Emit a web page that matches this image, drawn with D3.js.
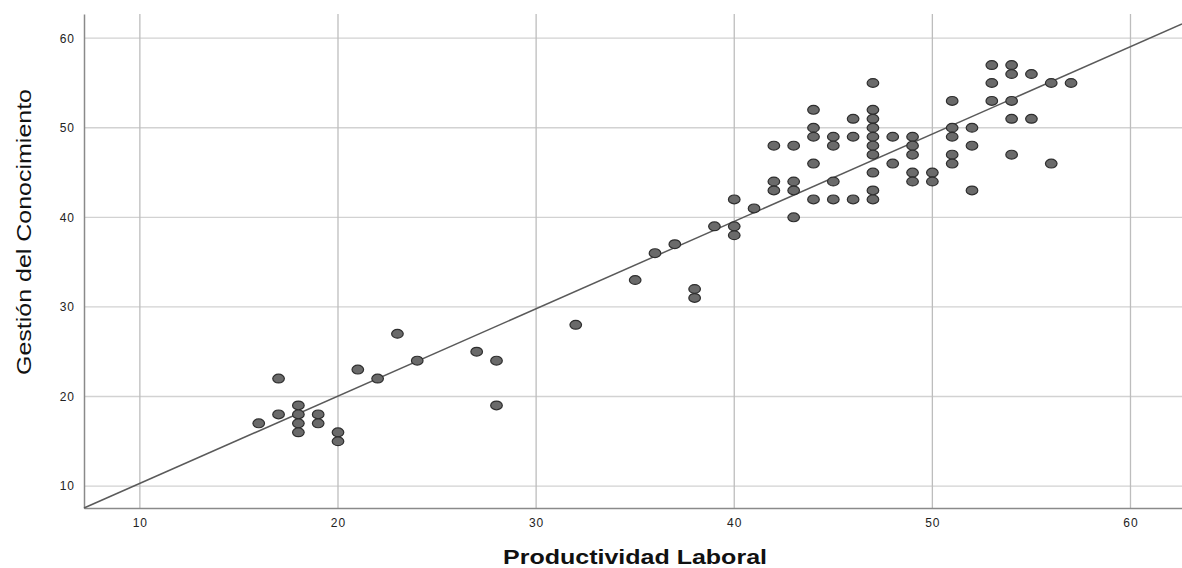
<!DOCTYPE html>
<html>
<head>
<meta charset="utf-8">
<script src="https://cdn.jsdelivr.net/npm/d3@7"></script>
<style>
	body { margin: 0; background: white; }
	svg { display: block; }
</style>
</head>
<body>
<svg id="svgScatter" width="1182" height="568"></svg>
<script>
// x = Productividad Laboral, y = Gestión del Conocimiento
const prodLaboral = [
	16, 17, 17, 18, 18, 18, 18, 19, 19, 20, 20, 21, 22, 23, 24, 27, 28, 28, 32, 35,
	36, 37, 38, 38, 39, 40, 40, 40, 41,
	42, 42, 42, 43, 43, 43, 43, 44, 44, 44, 44, 44, 45, 45, 45, 45, 46, 46, 46,
	47, 47, 47, 47, 47, 47, 47, 47, 47, 47, 48, 48, 49, 49, 49, 49, 49, 50, 50,
	51, 51, 51, 51, 51, 52, 52, 52, 53, 53, 53, 54, 54, 54, 54, 54, 55, 55, 56, 56, 57
];
const gestionConoc = [
	17, 22, 18, 19, 18, 17, 16, 18, 17, 16, 15, 23, 22, 27, 24, 25, 24, 19, 28, 33,
	36, 37, 32, 31, 39, 42, 39, 38, 41,
	48, 44, 43, 48, 44, 43, 40, 52, 50, 49, 46, 42, 49, 48, 44, 42, 51, 49, 42,
	55, 52, 51, 50, 49, 48, 47, 45, 43, 42, 49, 46, 49, 48, 47, 45, 44, 45, 44,
	53, 50, 49, 47, 46, 50, 48, 43, 57, 55, 53, 57, 56, 53, 51, 47, 56, 51, 55, 46, 55
];
const xTicks = [10, 20, 30, 40, 50, 60];
const yTicks = [10, 20, 30, 40, 50, 60];
// fit line
const fitIntercept = 0.55;
const fitSlope = 0.975;

const ctx = { left: 84, right: 1182, top: 14, bottom: 508 };

let svg = d3.select("#svgScatter");

let xscale = d3.scaleLinear()
	.domain([7.18, 62.6])
	.range([ctx.left, ctx.right]);
let yscale = d3.scaleLinear()
	.domain([7.55, 62.7])
	.range([ctx.bottom, ctx.top]);

// grid lines
svg.append("g")
	.selectAll("line")
	.data(yTicks)
	.join("line")
	.attr("x1", ctx.left)
	.attr("x2", ctx.right)
	.attr("y1", (d) => yscale(d))
	.attr("y2", (d) => yscale(d))
	.attr("stroke", "#d2d2d2")
	.attr("stroke-width", 1.3);
svg.append("g")
	.selectAll("line")
	.data(xTicks)
	.join("line")
	.attr("x1", (d) => xscale(d))
	.attr("x2", (d) => xscale(d))
	.attr("y1", ctx.top)
	.attr("y2", ctx.bottom)
	.attr("stroke", "#bdbdbd")
	.attr("stroke-width", 1.3);

// axes, no tick marks
svg.append("g")
	.attr("transform", "translate(0," + ctx.bottom + ")")
	.call(d3.axisBottom(xscale).tickValues(xTicks).tickSize(0).tickPadding(10));
svg.append("g")
	.attr("transform", "translate(" + ctx.left + ",0)")
	.call(d3.axisLeft(yscale).tickValues(yTicks).tickSize(0).tickPadding(9));

svg.selectAll(".domain").attr("stroke", "#8a8a8a").attr("stroke-width", 1.5);
svg.selectAll(".tick text")
	.attr("fill", "#222")
	.style("font-family", "Liberation Sans, Arial, sans-serif")
	.style("font-size", "12px")
	.style("letter-spacing", "1px");

// fit line across the plot
let fitX = [xscale.domain()[0], xscale.domain()[1]];
svg.append("line")
	.attr("x1", xscale(fitX[0]))
	.attr("y1", yscale(fitIntercept + fitSlope * fitX[0]))
	.attr("x2", xscale(fitX[1]))
	.attr("y2", yscale(fitIntercept + fitSlope * fitX[1]))
	.attr("stroke", "#5a5a5a")
	.attr("stroke-width", 1.5);

// points
svg.append("g")
	.selectAll("ellipse")
	.data(d3.range(prodLaboral.length))
	.join("ellipse")
	.attr("cx", (i) => xscale(prodLaboral[i]))
	.attr("cy", (i) => yscale(gestionConoc[i]))
	.attr("rx", 5.8)
	.attr("ry", 4.4)
	.attr("fill", "#6a6a6a")
	.attr("stroke", "#2e2e2e")
	.attr("stroke-width", 1.2);

// axis labels
svg.append("text")
	.text("Productividad Laboral")
	.attr("x", 635)
	.attr("y", 564)
	.attr("textLength", 264)
	.attr("lengthAdjust", "spacingAndGlyphs")
	.style("text-anchor", "middle")
	.style("font-family", "Liberation Sans, Arial, sans-serif")
	.style("font-size", "20px")
	.style("font-weight", "bold")
	.attr("fill", "#111");
svg.append("text")
	.text("Gestión del Conocimiento")
	.attr("transform", "translate(31,232) rotate(-90)")
	.attr("x", 0)
	.attr("y", 0)
	.attr("textLength", 286)
	.attr("lengthAdjust", "spacingAndGlyphs")
	.style("text-anchor", "middle")
	.style("font-family", "Liberation Sans, Arial, sans-serif")
	.style("font-size", "21px")
	.attr("fill", "#111");
</script>
</body>
</html>
